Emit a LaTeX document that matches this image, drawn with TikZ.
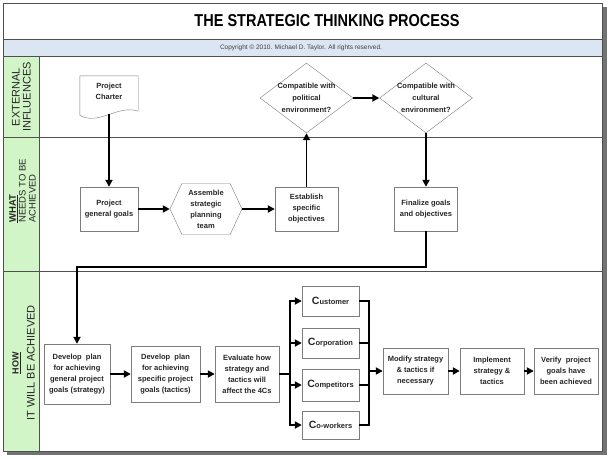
\documentclass[tikz,border=0pt]{standalone}
\usepackage{fontspec}
\setmainfont{Liberation Sans}
\usepackage{graphicx}
\usetikzlibrary{positioning}
\usetikzlibrary{shapes.geometric, shapes.symbols, arrows.meta}

\definecolor{lanegreen}{RGB}{210,245,200}
\definecolor{bandblue}{RGB}{220,230,242}
\definecolor{boxgray}{RGB}{125,125,125}
\definecolor{framegray}{RGB}{80,80,80}

\begin{document}
\begin{tikzpicture}[x=1pt, y=-1pt,
  boxfont/.style={font=\bfseries\fontsize{7.5}{11}\selectfont, text=black!85},
  stepbox/.style={boxfont, draw=boxgray, fill=white, align=center, inner sep=1pt},
  choice/.style={diamond, draw=boxgray, fill=white, minimum width=93pt, minimum height=70pt, inner sep=0pt},
  choicetext/.style={boxfont, align=center, font=\bfseries\fontsize{7.5}{12}\selectfont},
  cbox/.style={stepbox, minimum width=57pt},
  flow/.style={line width=1.8pt, -{Triangle[length=7pt,width=7pt]}},
  link/.style={line width=1.8pt},
  lanetext/.style={rotate=90, align=center, inner sep=0pt, text=black!85},
  laneline/.style={draw=framegray, line width=1pt}]
\useasboundingbox (0,0) rectangle (610,458);

% frame, bands and lanes
\fill[black!55] (7,7) rectangle (607,455);
\draw[fill=white, draw=framegray, line width=1pt] (3,3) rectangle (602,451);
\fill[bandblue] (3,39) rectangle (602,56);
\fill[lanegreen] (3,56) rectangle (39,451);
\draw[laneline] (3,39) -- (602,39);
\draw[laneline] (3,56) -- (602,56);
\draw[laneline] (3,137) -- (602,137);
\draw[laneline] (3,271) -- (602,271);
\draw[laneline] (39,56) -- (39,451);
\draw[draw=framegray, line width=1pt] (3,3) rectangle (602,451);

\node (title) at (327,21) {\resizebox{265pt}{12pt}{\bfseries THE STRATEGIC THINKING PROCESS}};
\node[text=black!75] (copyright) at (301,47.5) {\resizebox{162pt}{!}{Copyright © 2010. Michael D. Taylor. All rights reserved.}};

% lane labels
\node[lanetext, font=\fontsize{11}{11}\selectfont] (extlane) at (21.5,97) {EXTERNAL\\INFLUENCES};
\node[lanetext, align=left, anchor=west, font=\fontsize{9.5}{9.8}\selectfont] (whatlane) at (22.5,223) {\underline{\textbf{WHAT}}\\NEEDS TO BE\\ACHIEVED};
\node[lanetext, font=\fontsize{11}{16}\selectfont] (howlane) at (23.5,363) {\underline{\textbf{\fontsize{9}{16}\selectfont HOW}}\\IT WILL BE ACHIEVED};

% external influences
\node[boxfont, align=center, minimum width=58pt, minimum height=31pt, inner sep=0pt] (charter) at (109,91.5) {Project\\Charter};
\draw[draw=boxgray] (charter.north west) -- (charter.north east) -- ([yshift=-4pt]charter.south east)
  .. controls +(-20,-7) and +(18,11) .. ([yshift=-8pt]charter.south west) -- cycle;
\coordinate (chartertail) at ([yshift=-7pt]charter.south);
\node[choice, label={[choicetext]center:Compatible with\\political\\environment?}] (political) at (306.5,98) {};
\node[choice, label={[choicetext]center:Compatible with\\cultural\\environment?}] (cultural) at (426,98) {};

% what needs to be achieved
\node[stepbox, minimum width=58pt, minimum height=44pt] (goals) at (109,209) {Project\\general goals};
\node[boxfont, signal, signal to=east and west, signal pointer angle=130, draw=boxgray, fill=white,
  minimum width=72pt, minimum height=51pt, align=center, inner sep=0pt] (team) at (206,209) {Assemble\\strategic\\planning\\team};
\node[stepbox, minimum width=63pt, minimum height=44pt] (establish) at (306.5,209) {Establish\\specific\\objectives};
\node[stepbox, minimum width=63pt, minimum height=44pt] (finalize) at (426,209) {Finalize goals\\and objectives};

% how it will be achieved
\node[stepbox, minimum width=66pt, minimum height=60pt] (plangen) at (77,374) {Develop~~plan\\for achieving\\general project\\goals (strategy)};
\node[stepbox, minimum width=69pt, minimum height=56pt] (planspec) at (165.5,374) {Develop~~plan\\for achieving\\specific project\\goals (tactics)};
\node[stepbox, minimum width=64pt, minimum height=56pt] (evaluate) at (247,374) {Evaluate how\\strategy and\\tactics will\\affect the 4Cs};
\node[cbox, minimum height=30pt] (customer) at (330.5,301) {{\fontsize{10.5}{11}\selectfont C}ustomer};
\node[cbox, minimum height=30pt] (corporation) at (330.5,343) {{\fontsize{10.5}{11}\selectfont C}orporation};
\node[cbox, minimum height=32pt] (competitors) at (330.5,385) {{\fontsize{10.5}{11}\selectfont C}ompetitors};
\node[cbox, minimum height=28pt] (coworkers) at (330.5,425) {{\fontsize{10.5}{11}\selectfont C}o-workers};
\node[stepbox, minimum width=65pt, minimum height=46pt] (modify) at (415.5,371) {Modify strategy\\\& tactics if\\necessary};
\node[stepbox, minimum width=64pt, minimum height=46pt] (implement) at (492,371) {Implement\\strategy \&\\tactics};
\node[stepbox, minimum width=64pt, minimum height=46pt] (verify) at (566,371) {Verify~~project\\goals have\\been achieved};
\coordinate (split) at (290,374);
\coordinate (merge) at (369,371);

% connectors
\draw[flow] (chartertail) -- (goals);
\draw[flow] (goals) -- (team);
\draw[flow] (team) -- (establish);
\draw[flow] (establish) -- (political);
\draw[flow] (political) -- (cultural);
\draw[flow] (cultural) -- (finalize);
\draw[flow] (finalize.south) -- ++(0,36) -| (plangen.north);
\draw[flow] (plangen) -- (planspec);
\draw[flow] (planspec) -- (evaluate);
\draw[link] (evaluate) -- (split);
\foreach \c in {customer, corporation, competitors, coworkers}{
  \draw[flow] (split) |- (\c);
  \draw[link] (\c) -| (merge);
}
\draw[flow] (merge) -- (modify);
\draw[flow] (modify) -- (implement);
\draw[flow] (implement) -- (verify);

\end{tikzpicture}
\end{document}
